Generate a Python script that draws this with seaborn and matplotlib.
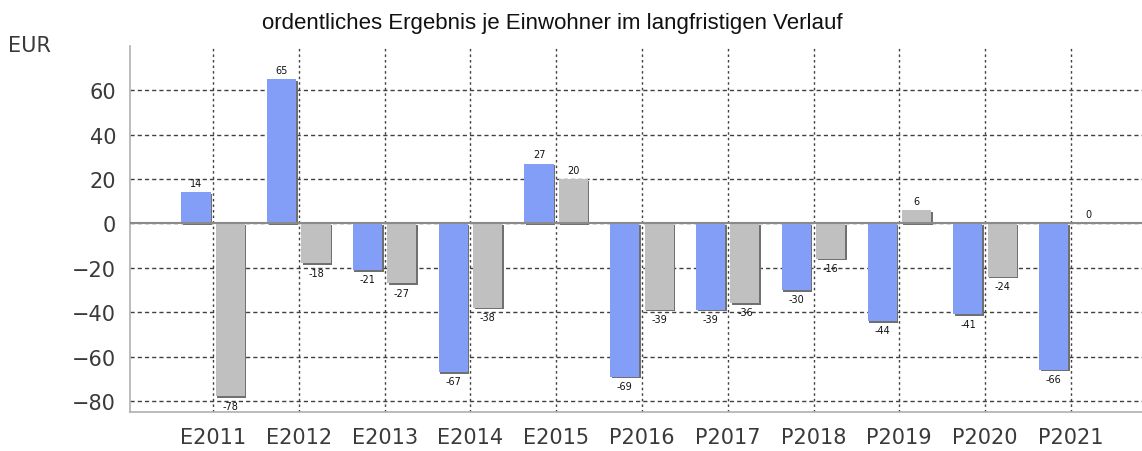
import matplotlib
matplotlib.use("Agg")
import matplotlib.pyplot as plt
import seaborn as sns
import pandas as pd
from matplotlib.patches import Rectangle
from matplotlib.transforms import ScaledTranslation

categories = ["E2011", "E2012", "E2013", "E2014", "E2015", "P2016",
              "P2017", "P2018", "P2019", "P2020", "P2021"]
series_blue = [14, 65, -21, -67, 27, -69, -39, -30, -44, -41, -66]
series_gray = [-78, -18, -27, -38, 20, -39, -36, -16, 6, -24, 0]
yticks = [-80, -60, -40, -20, 0, 20, 40, 60]

df = pd.DataFrame({
    "Jahr": categories * 2,
    "Wert": series_blue + series_gray,
    "Reihe": ["A"] * len(categories) + ["B"] * len(categories),
})

sns.set_style("white")
plt.rcParams["font.family"] = ["DejaVu Sans"]

fig = plt.figure(figsize=(11.42, 4.52), dpi=100)
ax = fig.add_axes([0.1138, 0.0863, 0.8862, 0.8097])

sns.barplot(data=df, x="Jahr", y="Wert", hue="Reihe", order=categories,
            hue_order=["A", "B"], palette=["#839ef7", "#c0c0c0"], saturation=1,
            width=0.8, gap=0.15, legend=False, ax=ax, zorder=3,
            edgecolor="none", linewidth=0)

shift = ax.transData + ScaledTranslation(1.1 / 72, -1.1 / 72, fig.dpi_scale_trans)
for p in list(ax.patches):
    sh = Rectangle(p.get_xy(), p.get_width(), p.get_height(), transform=shift,
                   facecolor="#707070", edgecolor="none", zorder=2.9)
    ax.add_patch(sh)

for cont in ax.containers:
    ax.bar_label(cont, fmt="%d", padding=3, fontsize=7, color="#111111", zorder=5)

ax.set_xlim(-0.97, 10.83)
ax.set_ylim(-85, 80)
ax.set_yticks(yticks)
ax.set_xlabel("")
ax.set_ylabel("")

ax.set_axisbelow(True)
ax.grid(axis="y", linestyle=(0, (3, 2.2)), color="#404040", linewidth=1)
ax.grid(axis="x", linestyle=(0, (1.8, 2.2)), color="#404040", linewidth=1)
ax.axhline(0, color="#8a8a8a", linewidth=1.5, zorder=4)

for s in ["top", "right"]:
    ax.spines[s].set_visible(False)
for s in ["left", "bottom"]:
    ax.spines[s].set_color("#b0b0b0")
    ax.spines[s].set_linewidth(1.2)

ax.tick_params(axis="y", length=4, color="#b0b0b0", labelsize=15, labelcolor="#3a3a3a", pad=6)
ax.tick_params(axis="x", length=5, color="#b0b0b0", labelsize=15, labelcolor="#3a3a3a", pad=6)

fig.text(0.007, 0.898, "EUR", fontsize=15, color="#3a3a3a", va="center", ha="left")
fig.text(0.484, 0.948, "ordentliches Ergebnis je Einwohner im langfristigen Verlauf",
         fontsize=16, family="Liberation Sans", color="#111111", ha="center", va="center")

fig.savefig("out.png", dpi=100)
